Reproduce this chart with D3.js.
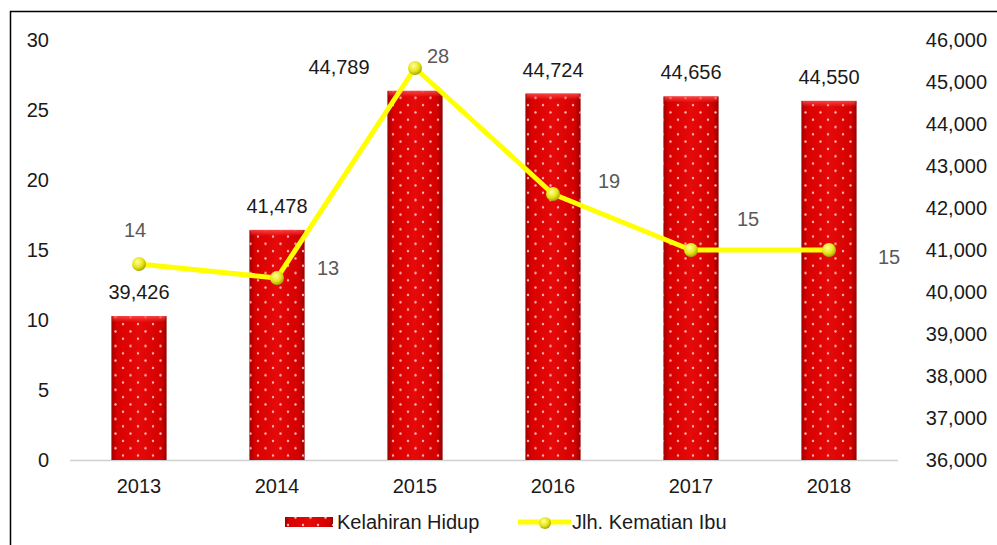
<!DOCTYPE html>
<html>
<head>
<meta charset="utf-8">
<script src="https://cdn.jsdelivr.net/npm/d3@7"></script>
<style>
  body { margin: 0; background: #fff; }
  svg text { font-family: "Liberation Sans", Arial, sans-serif; }
</style>
</head>
<body>
<div id="chart"></div>
<script>
// data
const years = ['2013', '2014', '2015', '2016', '2017', '2018'];
const kelahiranHidup = [39426, 41478, 44789, 44724, 44656, 44550];
const kematianIbu = [14, 13, 28, 19, 15, 15];
const leftTicks = [0, 5, 10, 15, 20, 25, 30];
const rightTicks = [36000, 37000, 38000, 39000, 40000, 41000, 42000, 43000, 44000, 45000, 46000];

// label nudges (to mimic the original label placement)
const barLabelDx = [0, 0, -76, 0, 0, 0];
const lineLabelOffset = [[-4, -34], [51, -10], [23, -12], [56, -13], [57, -31], [60, 7]];

const width = 997, height = 545;
const fontSize = 20;
const svg = d3.select('#chart').append('svg')
    .attr('width', width)
    .attr('height', height);

const defs = svg.append('defs');

// bar fill: red gradient with white dots
const grad = defs.append('linearGradient').attr('id', 'barGrad')
    .attr('x1', 0).attr('x2', 1).attr('y1', 0).attr('y2', 0);
grad.append('stop').attr('offset', '0%').attr('stop-color', '#9e0000');
grad.append('stop').attr('offset', '10%').attr('stop-color', '#d80000');
grad.append('stop').attr('offset', '50%').attr('stop-color', '#e60a0a');
grad.append('stop').attr('offset', '90%').attr('stop-color', '#d40000');
grad.append('stop').attr('offset', '100%').attr('stop-color', '#950000');

const dots = defs.append('pattern').attr('id', 'dots')
    .attr('patternUnits', 'userSpaceOnUse')
    .attr('width', 15).attr('height', 14.6);
dots.append('circle').attr('cx', 3).attr('cy', 3).attr('r', 1.2).attr('fill', '#ffb8b8');
dots.append('circle').attr('cx', 10.5).attr('cy', 10.3).attr('r', 1.2).attr('fill', '#ffb8b8');

const topGrad = defs.append('linearGradient').attr('id', 'topGrad')
    .attr('x1', 0).attr('x2', 0).attr('y1', 0).attr('y2', 1);
topGrad.append('stop').attr('offset', '0%').attr('stop-color', '#ff5050').attr('stop-opacity', 0.8);
topGrad.append('stop').attr('offset', '100%').attr('stop-color', '#ff5050').attr('stop-opacity', 0);

const ballGrad = defs.append('radialGradient').attr('id', 'ball')
    .attr('cx', '40%').attr('cy', '35%').attr('r', '65%');
ballGrad.append('stop').attr('offset', '0%').attr('stop-color', '#ffff9a');
ballGrad.append('stop').attr('offset', '60%').attr('stop-color', '#e6e61a');
ballGrad.append('stop').attr('offset', '100%').attr('stop-color', '#a8a800');

// outer frame
svg.append('path')
    .attr('d', `M10.5,${height} V11.5 H${width}`)
    .attr('fill', 'none')
    .attr('stroke', '#000')
    .attr('stroke-width', 1.5);

// scales
const x = d3.scaleBand().domain(years).range([70, 898])
    .paddingInner(0.6).paddingOuter(0.3);
const yLeft = d3.scaleLinear().domain([0, 30]).range([460, 40]);
const yRight = d3.scaleLinear().domain([36000, 46000]).range([460, 40]);

// axes
const leftAxis = svg.append('g').attr('transform', 'translate(49,0)')
    .call(d3.axisLeft(yLeft).tickValues(leftTicks).tickSize(0).tickPadding(0));
const rightAxis = svg.append('g').attr('transform', 'translate(987,0)')
    .call(d3.axisLeft(yRight).tickValues(rightTicks).tickSize(0).tickPadding(0)
        .tickFormat(d3.format(',')));
const bottomAxis = svg.append('g').attr('transform', 'translate(0,460)')
    .call(d3.axisBottom(x).tickSize(0).tickPadding(19));
[leftAxis, rightAxis, bottomAxis].forEach(g => {
    g.select('.domain').remove();
    g.selectAll('text').attr('font-size', fontSize).attr('fill', '#1a1a1a')
        .attr('font-family', '"Liberation Sans", Arial, sans-serif');
});

// baseline
svg.append('line')
    .attr('x1', 70).attr('x2', 898).attr('y1', 460.5).attr('y2', 460.5)
    .attr('stroke', '#d0d0d0').attr('stroke-width', 1.5);

// bars
const bars = svg.append('g').selectAll('g')
    .data(kelahiranHidup)
    .join('g');
bars.append('rect')
    .attr('x', (d, i) => x(years[i]))
    .attr('y', d => yRight(d))
    .attr('width', x.bandwidth())
    .attr('height', d => yRight(36000) - yRight(d))
    .attr('fill', 'url(#barGrad)');
bars.append('rect')
    .attr('x', (d, i) => x(years[i]))
    .attr('y', d => yRight(d))
    .attr('width', x.bandwidth())
    .attr('height', d => yRight(36000) - yRight(d))
    .attr('fill', 'url(#dots)');
bars.append('rect')
    .attr('x', (d, i) => x(years[i]) + 1)
    .attr('y', d => yRight(d))
    .attr('width', x.bandwidth() - 2)
    .attr('height', 6)
    .attr('fill', 'url(#topGrad)');

// bar labels
svg.append('g').selectAll('text')
    .data(kelahiranHidup)
    .join('text')
    .attr('x', (d, i) => x(years[i]) + x.bandwidth() / 2 + barLabelDx[i])
    .attr('y', d => yRight(d) - 24)
    .attr('dy', '0.35em')
    .attr('text-anchor', 'middle')
    .attr('font-size', fontSize)
    .attr('fill', '#1a1a1a')
    .text(d => d3.format(',')(d));

// line
const cx = (i) => x(years[i]) + x.bandwidth() / 2;
const line = d3.line()
    .x((d, i) => cx(i))
    .y(d => yLeft(d));
svg.append('path')
    .datum(kematianIbu)
    .attr('d', line)
    .attr('fill', 'none')
    .attr('stroke', '#ffff00')
    .attr('stroke-width', 5)
    .attr('stroke-linejoin', 'round');

svg.append('g').selectAll('circle')
    .data(kematianIbu)
    .join('circle')
    .attr('cx', (d, i) => cx(i))
    .attr('cy', d => yLeft(d))
    .attr('r', 7)
    .attr('fill', 'url(#ball)');

svg.append('g').selectAll('text')
    .data(kematianIbu)
    .join('text')
    .attr('x', (d, i) => cx(i) + lineLabelOffset[i][0])
    .attr('y', (d, i) => yLeft(d) + lineLabelOffset[i][1])
    .attr('dy', '0.35em')
    .attr('text-anchor', 'middle')
    .attr('font-size', fontSize)
    .attr('fill', '#595959')
    .text(d => d);

// legend
const legend = svg.append('g').attr('transform', 'translate(0,522)');
legend.append('rect')
    .attr('x', 285).attr('y', -5).attr('width', 48).attr('height', 10)
    .attr('fill', 'url(#barGrad)');
legend.append('rect')
    .attr('x', 285).attr('y', -5).attr('width', 48).attr('height', 10)
    .attr('fill', 'url(#dots)');
legend.append('text')
    .attr('x', 337).attr('y', 0).attr('dy', '0.35em')
    .attr('font-size', fontSize).attr('fill', '#1a1a1a')
    .text('Kelahiran Hidup');
legend.append('line')
    .attr('x1', 518).attr('x2', 571).attr('y1', 0).attr('y2', 0)
    .attr('stroke', '#ffff00').attr('stroke-width', 5);
legend.append('circle')
    .attr('cx', 545).attr('cy', 1).attr('r', 6)
    .attr('fill', 'url(#ball)');
legend.append('text')
    .attr('x', 572).attr('y', 0).attr('dy', '0.35em')
    .attr('font-size', fontSize).attr('fill', '#1a1a1a')
    .text('Jlh. Kematian Ibu');
</script>
</body>
</html>
